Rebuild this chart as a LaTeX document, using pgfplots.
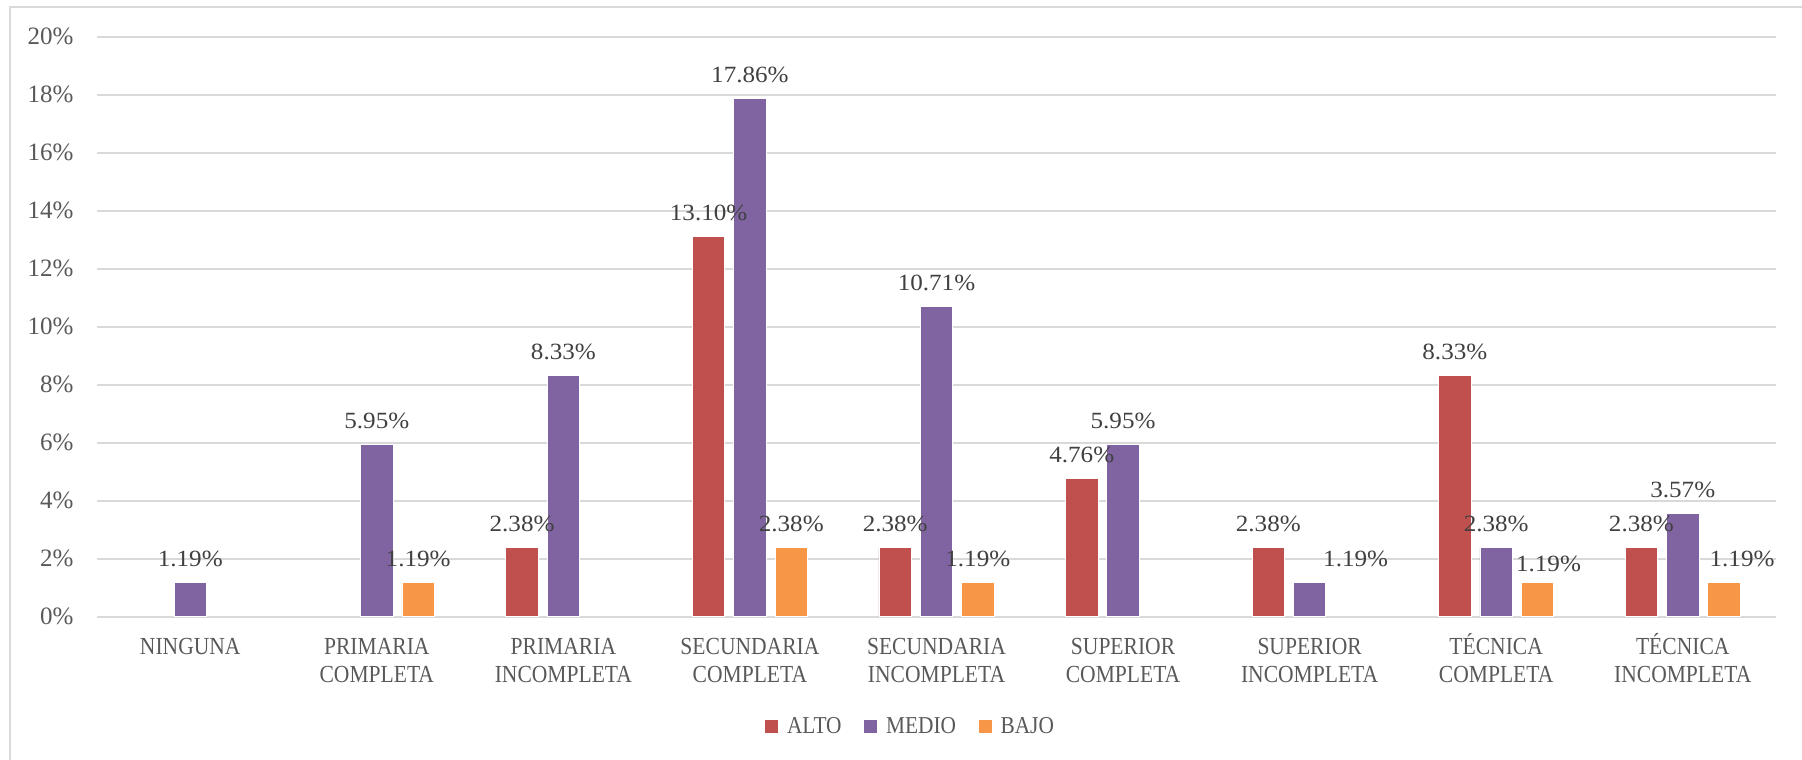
\documentclass[border=0pt]{standalone}
\usepackage{fontspec}
\setmainfont{Liberation Serif}
\newfontfamily\catfont{Liberation Serif}[FakeStretch=0.88]
\newfontfamily\numfont{Liberation Serif}[FakeStretch=1.08]
\usepackage{pgfplots}
\usepackage{pgfplotstable}
\pgfplotsset{compat=1.18}

\definecolor{alto}{HTML}{C0504D}
\definecolor{medio}{HTML}{8064A2}
\definecolor{bajo}{HTML}{F79646}
\definecolor{gridc}{HTML}{D9D9D9}
\definecolor{txt}{HTML}{595959}
\definecolor{lbl}{HTML}{404040}

% x = categoria (0..8), y = porcentaje, dx/dy = ajuste de la etiqueta (pt)
\pgfplotstableread{
x y dx dy
2 2.38 0 0
3 13.10 0 0
4 2.38 0 0
5 4.76 0 0
6 2.38 0 0
7 8.33 0 0
8 2.38 0 0
}\alto
\pgfplotstableread{
x y dx dy
0 1.19 0 0
1 5.95 0 0
2 8.33 0 0
3 17.86 0 0
4 10.71 0 0
5 5.95 0 0
6 1.19 18.4 0
7 2.38 0 0
8 3.57 0 0
}\medio
\pgfplotstableread{
x y dx dy
1 1.19 0 0
3 2.38 0 0
4 1.19 0 0
7 1.19 4.4 -2
8 1.19 7.2 0
}\bajo

% primera linea de cada rotulo con la misma altura
\newcommand\fl{\vphantom{É}}

\begin{document}
\begin{tikzpicture}
\begin{axis}[
  scale only axis, width=671.6pt, height=232pt,
  xmin=-0.5, xmax=8.5, ymin=0, ymax=20,
  ybar,
  axis line style={draw=none},
  major tick length=0pt,
  ytick={0,2,...,20},
  yticklabel={\pgfmathprintnumber[assume math mode=true]{\tick}\%},
  yticklabel style={font=\fontsize{10}{12}\selectfont, text=txt, anchor=east, inner sep=0pt, xshift=-9.2pt},
  ymajorgrids, grid style={draw=gridc, line width=0.7pt},
  xtick={0,...,8},
  xticklabels={\fl NINGUNA, \fl PRIMARIA\\COMPLETA, \fl PRIMARIA\\INCOMPLETA, \fl SECUNDARIA\\COMPLETA, \fl SECUNDARIA\\INCOMPLETA, \fl SUPERIOR\\COMPLETA, \fl SUPERIOR\\INCOMPLETA, \fl TÉCNICA\\COMPLETA, \fl TÉCNICA\\INCOMPLETA},
  xticklabel style={font=\catfont\fontsize{9.8}{11.2}\selectfont, text=txt, align=center, anchor=north, inner sep=0pt, yshift=-6.65pt},
  bar width=0.174,
  nodes near coords={\pgfmathprintnumber[fixed,fixed zerofill,precision=2,assume math mode=true]{\pgfplotspointmeta}\%},
  visualization depends on={\thisrow{dx} \as \dx},
  visualization depends on={\thisrow{dy} \as \dy},
  every node near coord/.append style={font=\numfont\fontsize{9.3}{11}\selectfont, text=lbl, anchor=base, inner sep=0pt, xshift=\dx pt, yshift=6.4pt+\dy pt},
  legend columns=3,
  legend style={draw=none, fill=none, at={(0.4854,-0.190)}, anchor=center,
    font=\catfont\fontsize{9.7}{11}\selectfont, text=txt,
    /tikz/every odd column/.append style={column sep=1.6pt},
    /tikz/every even column/.append style={column sep=7pt}},
  legend image code/.code={\fill[#1, draw=none] (0pt,-2.6pt) rectangle (5.2pt,2.6pt);},
  clip=false,
]
\addplot[fill=alto, draw=white, line width=0.3pt, bar shift=-0.2215] table[x=x, y=y] {\alto};
\addlegendentry{ALTO}
\addplot[fill=medio, draw=white, line width=0.3pt, bar shift=0] table[x=x, y=y] {\medio};
\addlegendentry{MEDIO}
\addplot[fill=bajo, draw=white, line width=0.3pt, bar shift=0.2215] table[x=x, y=y] {\bajo};
\addlegendentry{BAJO}
\coordinate (o) at (rel axis cs:0,0);
\coordinate (p) at (rel axis cs:1,1);
\end{axis}
\draw[gridc, line width=0.8pt] ([xshift=-34.8pt, yshift=-60pt]o) |- ([xshift=20pt, yshift=11.9pt]p);
\pgfresetboundingbox
\path[use as bounding box] ([xshift=-38.8pt, yshift=-57.3pt]o) rectangle ([xshift=10.4pt, yshift=14.7pt]p);
\end{tikzpicture}
\end{document}
